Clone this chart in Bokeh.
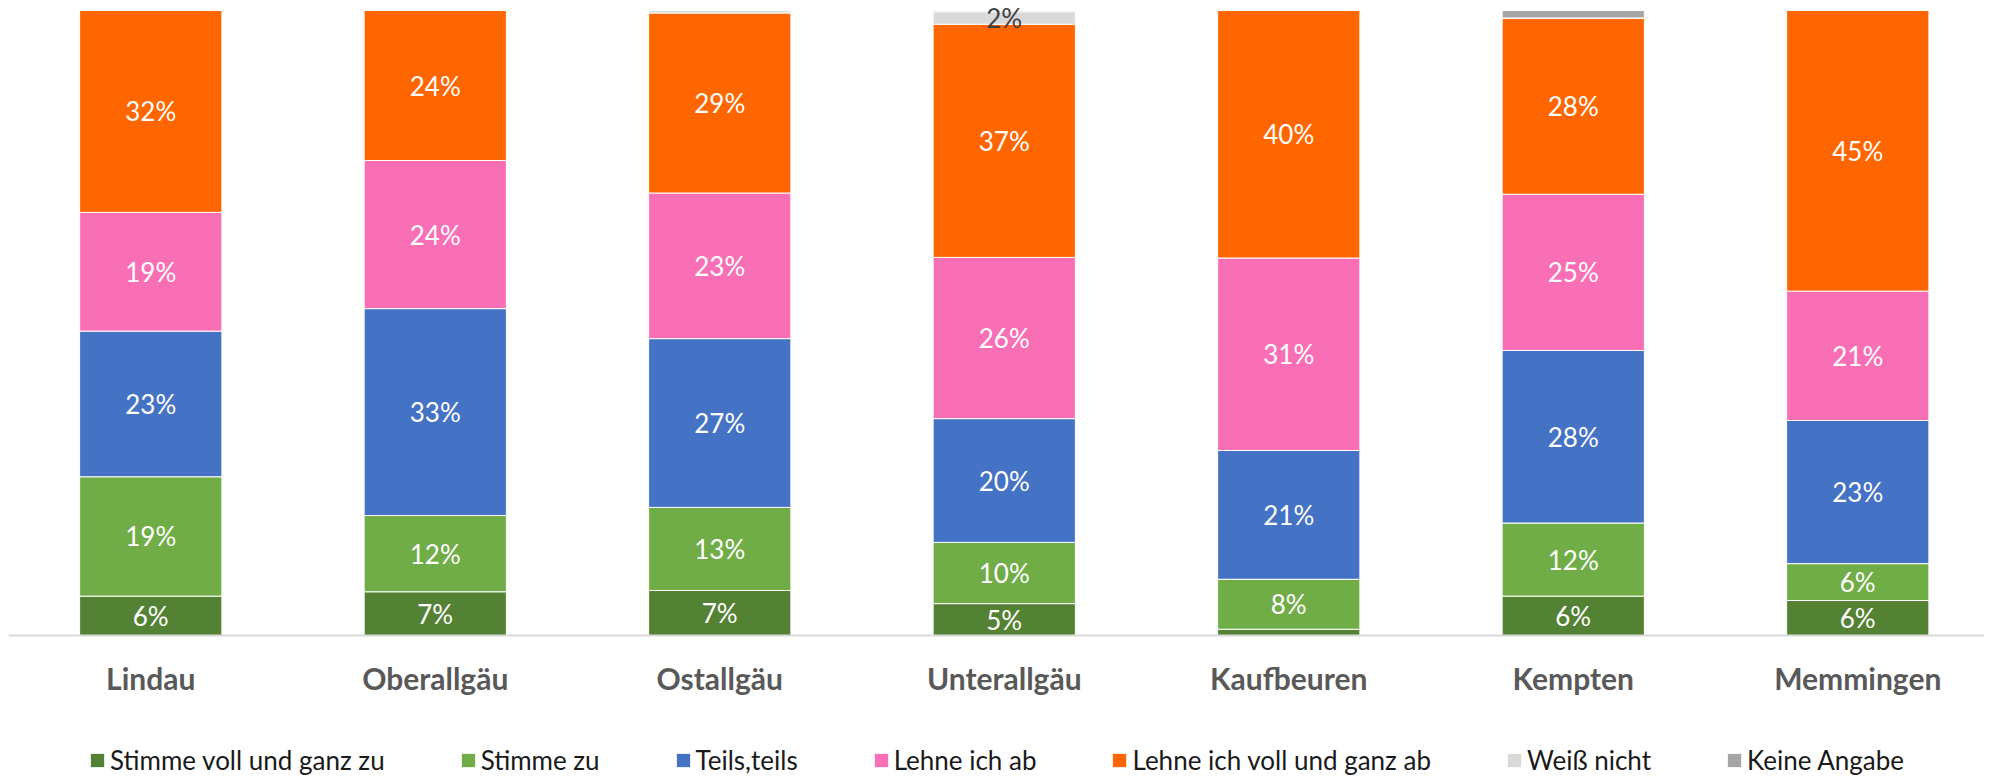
from bokeh.plotting import figure
from bokeh.models import ColumnDataSource, Legend, LegendItem, Range1d, Span
from bokeh.embed import file_html
from bokeh.resources import INLINE
from bokeh.core.properties import value

regions = ["Lindau", "Oberallgäu", "Ostallgäu", "Unterallgäu", "Kaufbeuren", "Kempten", "Memmingen"]
stimme_voll = [6.3, 7.0, 7.2, 5.1, 1.0, 6.3, 5.6]
stimme_zu = [19.1, 12.2, 13.3, 9.8, 8.0, 11.7, 5.9]
teils = [23.3, 33.1, 27.0, 19.8, 20.6, 27.6, 22.9]
lehne = [19.0, 23.7, 23.3, 25.8, 30.8, 25.0, 20.7]
lehne_voll = [32.3, 24.0, 28.8, 37.3, 39.6, 28.2, 44.9]
weiss_nicht = [0.0, 0.0, 0.4, 2.0, 0.0, 0.0, 0.0]
keine_angabe = [0.0, 0.0, 0.0, 0.2, 0.0, 1.2, 0.0]

series_names = ["Stimme voll und ganz zu", "Stimme zu", "Teils,teils", "Lehne ich ab",
                "Lehne ich voll und ganz ab", "Weiß nicht", "Keine Angabe"]
series_values = [stimme_voll, stimme_zu, teils, lehne, lehne_voll, weiss_nicht, keine_angabe]
colors = ["#548235", "#70AD47", "#4472C4", "#F96FB5", "#FF6600", "#D9D9D9", "#A5A5A5"]
label_colors = ["white", "white", "white", "white", "white", "#404040", "#404040"]

FONT = "Lato"
W, H = 1984, 776
LEFT = 8                     # left border in px
CAT_PX = 284.5               # px per category
TOP_PX, BASE_PX = 10, 635    # pixel rows of 100 % and 0 %
scale = (BASE_PX - TOP_PX) / 100.0  # px per percent

xi = list(range(len(regions)))
keys = ["s%d" % i for i in range(len(series_names))]
data = {"x": xi}
for k, v in zip(keys, series_values):
    data[k] = v
src = ColumnDataSource(data)

p = figure(width=W, height=H, output_backend="svg", toolbar_location=None,
           x_range=Range1d(-0.5, -0.5 + (W - LEFT) / CAT_PX),
           y_range=Range1d(-(H - BASE_PX) / scale, 100 + TOP_PX / scale),
           min_border=0, min_border_left=LEFT, min_border_right=0,
           min_border_top=0, min_border_bottom=0)
p.axis.visible = False
p.grid.visible = False
p.outline_line_color = None

renderers = p.vbar_stack(keys, x="x", width=0.5, source=src, color=colors,
                         line_color="white", line_width=1)

p.add_layout(Span(location=0, dimension="width", line_color="#D9D9D9", line_width=2))

# data labels
lx, ly, lt, lc = [], [], [], []
for i in xi:
    base = 0.0
    for s, vals in enumerate(series_values):
        v = vals[i]
        if v >= 1.5:
            lx.append(i)
            ly.append(base + v / 2)
            lt.append("%d%%" % round(v))
            lc.append(label_colors[s])
        base += v
lsrc = ColumnDataSource(dict(x=lx, y=ly, t=lt, c=lc))
p.text(x="x", y="y", text="t", source=lsrc, text_color="c", text_align="center",
       text_baseline="middle", text_font=value(FONT), text_font_size="26px")

# category labels
csrc = ColumnDataSource(dict(x=xi, y=[-(677 - BASE_PX) / scale] * len(xi), t=regions))
p.text(x="x", y="y", text="t", source=csrc, text_color="#595959", text_align="center",
       text_baseline="middle", text_font=value(FONT), text_font_style="bold",
       text_font_size="30px")

items = [LegendItem(label=n, renderers=[r]) for n, r in zip(series_names, renderers)]
legend = Legend(items=items, orientation="horizontal", location="bottom_center",
                label_text_font=FONT, label_text_font_size="26px", label_text_color="#1a1a1a",
                glyph_width=18, glyph_height=18, label_standoff=4, spacing=74,
                label_height=15, border_line_color=None, background_fill_alpha=0,
                padding=0, margin=0)
p.add_layout(legend, "center")

open("out.html", "w").write(file_html(p, INLINE))
